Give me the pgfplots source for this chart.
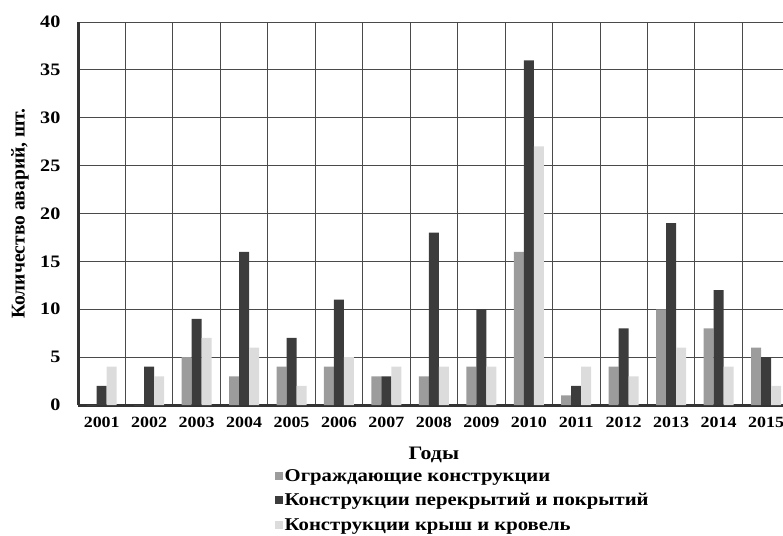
\documentclass[border=0pt]{standalone}
\usepackage{fontspec}
\setmainfont[FakeStretch=1.15]{Liberation Serif}
\newfontfamily\labelfont{Liberation Serif}
\usepackage{pgfplots}
\usepackage{pgfplotstable}
\pgfplotsset{compat=1.18}

\definecolor{cOgr}{HTML}{9C9C9C}
\definecolor{cPer}{HTML}{3C3C3C}
\definecolor{cKr}{HTML}{DCDCDC}
\definecolor{gridc}{HTML}{4A4A4A}

% year index, ograzhdayushchie, perekrytiya, kryshi
\pgfplotstableread{
x  ogr per kr
1  0   2   4
2  0   4   3
3  5   9   7
4  3   16  6
5  4   7   2
6  4   11  5
7  3   3   4
8  3   18  4
9  4   10  4
10 16  36  27
11 1   2   4
12 4   8   3
13 10  19  6
14 8   12  4
15 6   5   2
}\accidents

\begin{document}
\begin{tikzpicture}[x=1pt,y=1pt]
\begin{axis}[
  at={(78pt,130pt)}, anchor=south west,
  scale only axis,
  width=711.75pt, height=383pt,
  ybar=0pt, bar width=10pt,
  xmin=0.5, xmax=15.5,
  ymin=0, ymax=40,
  xtick={1,...,15},
  xticklabels={2001,2002,2003,2004,2005,2006,2007,2008,2009,2010,2011,2012,2013,2014,2015},
  minor xtick={1.5,2.5,...,15.5},
  ytick={0,5,...,40},
  xminorgrids=true, ymajorgrids=true,
  grid style={draw=gridc, line width=0.9pt},
  minor grid style={draw=gridc, line width=0.9pt},
  axis x line=bottom, axis y line=left,
  axis line style={draw=black!80, line width=3pt, -},
  tick style={draw=none},
  /pgf/number format/assume math mode=true,
  xticklabel style={font=\bfseries\fontsize{15.6}{18}\selectfont, yshift=-6pt},
  yticklabel style={font=\bfseries\fontsize{17.5}{20}\selectfont, xshift=-12pt},
  xlabel={Годы},
  xlabel style={font=\bfseries\fontsize{19}{22}\selectfont, at={(axis description cs:0.5,-0.13)}, anchor=center},
  ylabel={Количество аварий, шт.},
  ylabel style={font=\labelfont\bfseries\fontsize{19.5}{22}\selectfont, at={(axis description cs:-0.0815,0.5)}, anchor=center},
  legend cell align=left,
  legend image code/.code={\fill[#1,draw=none] (0pt,-4pt) rectangle (8pt,4pt);},
  legend style={at={(axis description cs:0.2768,-0.163)}, anchor=north west,
    draw=none, fill=none, inner sep=0pt, row sep=8pt,
    font=\bfseries\fontsize{18}{20}\selectfont,
    nodes={inner sep=1.5pt}},
]
\addplot[fill=cOgr, draw=none] table[x=x, y=ogr] {\accidents};
\addplot[fill=cPer, draw=none] table[x=x, y=per] {\accidents};
\addplot[fill=cKr, draw=none] table[x=x, y=kr] {\accidents};
\legend{Ограждающие конструкции, Конструкции перекрытий и покрытий, Конструкции крыш и кровель}
\end{axis}
\pgfresetboundingbox
\path (0pt,0pt) rectangle (783pt,535pt);
\end{tikzpicture}
\end{document}
